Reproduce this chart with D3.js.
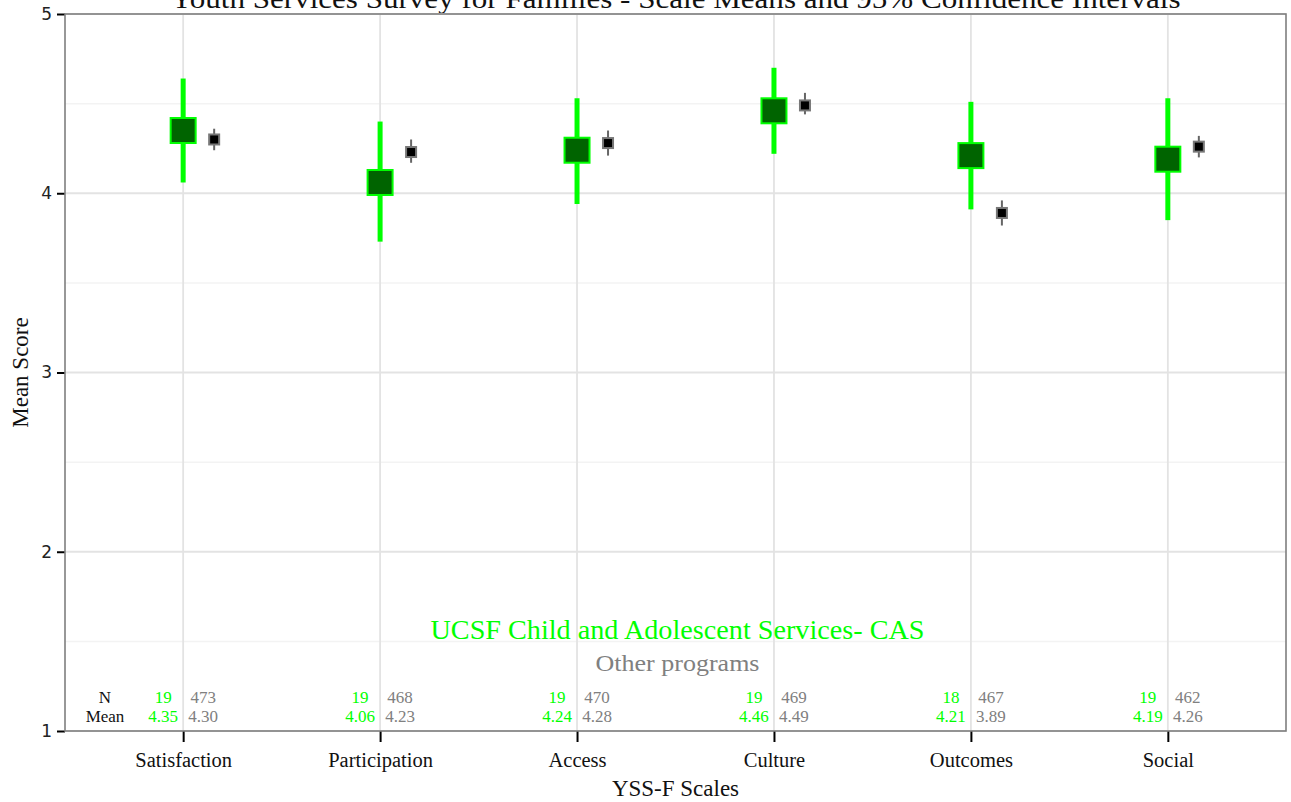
<!DOCTYPE html>
<html>
<head>
<meta charset="utf-8">
<script src="https://cdn.jsdelivr.net/npm/d3@7"></script>
<style>
  body { margin: 0; background: #fff; }
  text { font-family: "Liberation Serif", "DejaVu Serif", serif; }
</style>
</head>
<body>
<svg id="chart" width="1291" height="802"></svg>
<script>
// scales on the x axis
var scales = ['Satisfaction', 'Participation', 'Access', 'Culture', 'Outcomes', 'Social'];

// this program (green)
var progMean = [4.35, 4.06, 4.24, 4.46, 4.21, 4.19];
var progLo   = [4.06, 3.73, 3.94, 4.22, 3.91, 3.85];
var progHi   = [4.64, 4.40, 4.53, 4.70, 4.51, 4.53];
var progN    = [19, 19, 19, 19, 18, 19];

// other programs (black/grey)
var otherMean = [4.30, 4.23, 4.28, 4.49, 3.89, 4.26];
var otherLo   = [4.24, 4.17, 4.21, 4.44, 3.82, 4.20];
var otherHi   = [4.36, 4.30, 4.35, 4.56, 3.96, 4.32];
var otherN    = [473, 468, 470, 469, 467, 462];

var yTicks = [1, 2, 3, 4, 5];
var yMinor = [1.5, 2.5, 3.5, 4.5];

var svg = d3.select('#chart');
// note: "top" is taken by window.top, so use p* names
var pLeft = 65, pRight = 1286, pTop = 14, pBottom = 731;

var x = d3.scalePoint().domain(scales).range([pLeft, pRight]).padding(0.6);
var y = d3.scaleLinear().domain([1, 5]).range([pBottom, pTop]);

// title (sits right at the top edge, like the original)
svg.append('text')
   .attr('x', (pLeft + pRight) / 2).attr('y', 8)
   .attr('text-anchor', 'middle')
   .attr('font-size', 27)
   .attr('fill', '#111')
   .attr('textLength', 1010).attr('lengthAdjust', 'spacingAndGlyphs')
   .text('Youth Services Survey for Families - Scale Means and 95% Confidence Intervals');

// grid
var g = svg.append('g');
g.selectAll('line.minor').data(yMinor).enter().append('line')
 .attr('x1', pLeft).attr('x2', pRight)
 .attr('y1', d => y(d)).attr('y2', d => y(d))
 .attr('stroke', '#f3f3f3').attr('stroke-width', 1.5);
g.selectAll('line.major').data(yTicks).enter().append('line')
 .attr('x1', pLeft).attr('x2', pRight)
 .attr('y1', d => y(d)).attr('y2', d => y(d))
 .attr('stroke', '#e3e3e3').attr('stroke-width', 1.8);
g.selectAll('line.vert').data(scales).enter().append('line')
 .attr('x1', d => x(d)).attr('x2', d => x(d))
 .attr('y1', pTop).attr('y2', pBottom)
 .attr('stroke', '#e3e3e3').attr('stroke-width', 1.8);

// axes
var yAxis = svg.append('g').attr('transform', `translate(${pLeft},0)`)
  .call(d3.axisLeft(y).tickValues(yTicks).tickFormat(d3.format('d')).tickSize(8).tickPadding(5));
yAxis.select('.domain').remove();
yAxis.selectAll('line').attr('stroke', '#000').attr('stroke-width', 2);
yAxis.selectAll('text').attr('fill', '#222')
  .style('font-family', '"DejaVu Sans", sans-serif').attr('font-size', 17);

var xAxis = svg.append('g').attr('transform', `translate(0,${pBottom})`)
  .call(d3.axisBottom(x).tickSize(11).tickPadding(10));
xAxis.select('.domain').remove();
xAxis.selectAll('line').attr('stroke', '#000').attr('stroke-width', 2);
xAxis.selectAll('text').attr('font-size', 20.5).attr('fill', '#111');

// axis titles
svg.append('text')
   .attr('x', (pLeft + pRight) / 2).attr('y', 796)
   .attr('text-anchor', 'middle').attr('font-size', 23).attr('fill', '#111')
   .text('YSS-F Scales');
svg.append('text')
   .attr('transform', `translate(28,${(pTop + pBottom) / 2}) rotate(-90)`)
   .attr('text-anchor', 'middle').attr('font-size', 23).attr('fill', '#111')
   .text('Mean Score');

// other programs: thin grey CI + small black square
var off = 31;
svg.selectAll('line.oci').data(scales).enter().append('line')
   .attr('x1', d => x(d) + off).attr('x2', d => x(d) + off)
   .attr('y1', (d, i) => y(otherLo[i])).attr('y2', (d, i) => y(otherHi[i]))
   .attr('stroke', '#666').attr('stroke-width', 2);
svg.selectAll('rect.opt').data(scales).enter().append('rect')
   .attr('x', d => x(d) + off - 5).attr('y', (d, i) => y(otherMean[i]) - 5)
   .attr('width', 10).attr('height', 10)
   .attr('fill', '#000').attr('stroke', '#777').attr('stroke-width', 2);

// this program: thick green CI + big dark-green square
svg.selectAll('line.pci').data(scales).enter().append('line')
   .attr('x1', d => x(d)).attr('x2', d => x(d))
   .attr('y1', (d, i) => y(progLo[i])).attr('y2', (d, i) => y(progHi[i]))
   .attr('stroke', '#00ff00').attr('stroke-width', 5);
svg.selectAll('rect.ppt').data(scales).enter().append('rect')
   .attr('x', d => x(d) - 12.5).attr('y', (d, i) => y(progMean[i]) - 12.5)
   .attr('width', 25).attr('height', 25)
   .attr('fill', '#006400').attr('stroke', '#00ff00').attr('stroke-width', 2);

// panel border
svg.append('rect')
   .attr('x', pLeft).attr('y', pTop).attr('width', pRight - pLeft).attr('height', pBottom - pTop)
   .attr('fill', 'none').attr('stroke', '#7f7f7f').attr('stroke-width', 1.6);

// legend text
svg.append('text')
   .attr('x', (pLeft + pRight) / 2 + 2).attr('y', 639)
   .attr('text-anchor', 'middle').attr('font-size', 27).attr('fill', '#00ff00')
   .attr('textLength', 494).attr('lengthAdjust', 'spacingAndGlyphs')
   .text('UCSF Child and Adolescent Services- CAS');
svg.append('text')
   .attr('x', (pLeft + pRight) / 2 + 2).attr('y', 671)
   .attr('text-anchor', 'middle').attr('font-size', 23).attr('fill', '#808080')
   .attr('textLength', 164).attr('lengthAdjust', 'spacingAndGlyphs')
   .text('Other programs');

// N / Mean table
var rowN = 703, rowM = 722;
svg.append('text').attr('x', 105).attr('y', rowN).attr('text-anchor', 'middle')
   .attr('font-size', 17).attr('fill', '#111').text('N');
svg.append('text').attr('x', 105).attr('y', rowM).attr('text-anchor', 'middle')
   .attr('font-size', 17).attr('fill', '#111').text('Mean');

var tbl = svg.append('g').attr('font-size', 17).attr('text-anchor', 'middle');
tbl.selectAll('text.pn').data(scales).enter().append('text')
   .attr('x', d => x(d) - 20).attr('y', rowN).attr('fill', '#00ff00')
   .text((d, i) => progN[i]);
tbl.selectAll('text.pm').data(scales).enter().append('text')
   .attr('x', d => x(d) - 20).attr('y', rowM).attr('fill', '#00ff00')
   .text((d, i) => progMean[i].toFixed(2));
tbl.selectAll('text.on').data(scales).enter().append('text')
   .attr('x', d => x(d) + 20).attr('y', rowN).attr('fill', '#808080')
   .text((d, i) => otherN[i]);
tbl.selectAll('text.om').data(scales).enter().append('text')
   .attr('x', d => x(d) + 20).attr('y', rowM).attr('fill', '#808080')
   .text((d, i) => otherMean[i].toFixed(2));
</script>
</body>
</html>
